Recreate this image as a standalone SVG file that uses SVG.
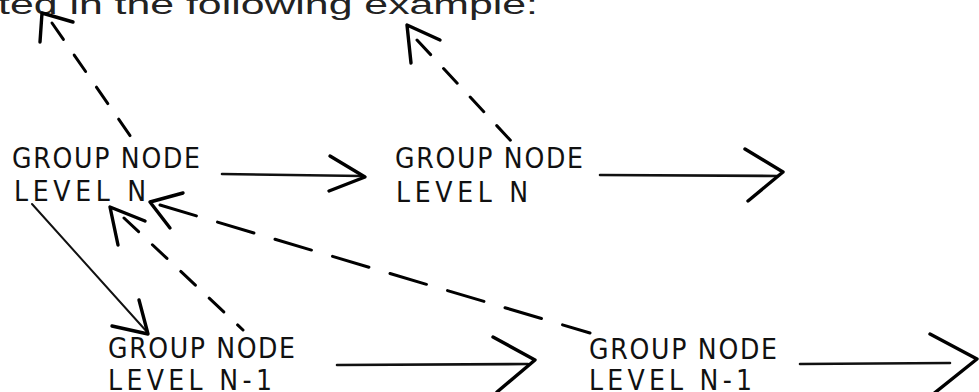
<svg xmlns="http://www.w3.org/2000/svg" width="979" height="392" viewBox="0 0 979 392">
  <style>
    .bg { fill: #ffffff; }
    .lbl { font-family: "DejaVu Sans Condensed", "DejaVu Sans", "Liberation Sans", sans-serif; font-stretch: condensed; font-size: 28px; fill: #111; }
    .top { font-family: "Liberation Sans", Arial, sans-serif; font-size: 27px; fill: #222; }
    .solid { fill: none; stroke: #111; stroke-width: 2.6; stroke-linecap: round; stroke-linejoin: round; }
    .thin { fill: none; stroke: #111; stroke-width: 2; stroke-linecap: round; }
    .head { fill: none; stroke: #000; stroke-width: 3.4; stroke-linecap: round; stroke-linejoin: round; }
    .dash { fill: none; stroke: #000; stroke-width: 3; stroke-linecap: round; stroke-dasharray: 20 19; }
    .dashlong { fill: none; stroke: #000; stroke-width: 3; stroke-linecap: round; stroke-dasharray: 38 22; }
  </style>
  <rect class="bg" x="0" y="0" width="979" height="392"/>

  <text class="top" x="-2" y="14" textLength="540" lengthAdjust="spacingAndGlyphs">ted in the following example:</text>

  <g id="node-n-left">
    <text class="lbl" x="12" y="168" textLength="188" lengthAdjust="spacing">GROUP NODE</text>
    <text class="lbl" x="14" y="201" textLength="132" lengthAdjust="spacing">LEVEL N</text>
  </g>
  <g id="node-n-right">
    <text class="lbl" x="395" y="168" textLength="188" lengthAdjust="spacing">GROUP NODE</text>
    <text class="lbl" x="396" y="202" textLength="132" lengthAdjust="spacing">LEVEL N</text>
  </g>
  <g id="node-n1-left">
    <text class="lbl" x="108" y="358" textLength="187" lengthAdjust="spacing">GROUP NODE</text>
    <text class="lbl" x="108" y="390" textLength="164" lengthAdjust="spacing">LEVEL N-1</text>
  </g>
  <g id="node-n1-right">
    <text class="lbl" x="589" y="359" textLength="188" lengthAdjust="spacing">GROUP NODE</text>
    <text class="lbl" x="589" y="390" textLength="163" lengthAdjust="spacing">LEVEL N-1</text>
  </g>

  <g id="connectors">
    <path class="solid" d="M222 174 L362 176"/>
    <path class="head" d="M330 156 L365 177 L329 191"/>

    <path class="solid" d="M600 175 L778 176"/>
    <path class="head" d="M745 149 L783 172 L748 201"/>

    <path class="solid" d="M337 365 L528 364"/>
    <path class="head" d="M493 337 L535 360 L497 392"/>

    <path class="solid" d="M800 364 L950 363"/>
    <path class="head" d="M930 334 L977 359 L932 395"/>

    <path class="thin" d="M32 204 L148 333"/>
    <path class="head" d="M112 326 L148 334 L139 300"/>

    <path class="dash" d="M52 23 L131 137"/>
    <path class="head" d="M73 22 L42 13 L40 42"/>

    <path class="dash" d="M417 40 L512 142"/>
    <path class="head" d="M440 40 L407 25 L411 63"/>

    <path class="dash" d="M124 218 L243 330"/>
    <path class="head" d="M145 221 L110 207 L118 245"/>

    <path class="dashlong" d="M160 205 L590 333"/>
    <path class="head" d="M183 193 L150 202 L170 228"/>
  </g>
</svg>
